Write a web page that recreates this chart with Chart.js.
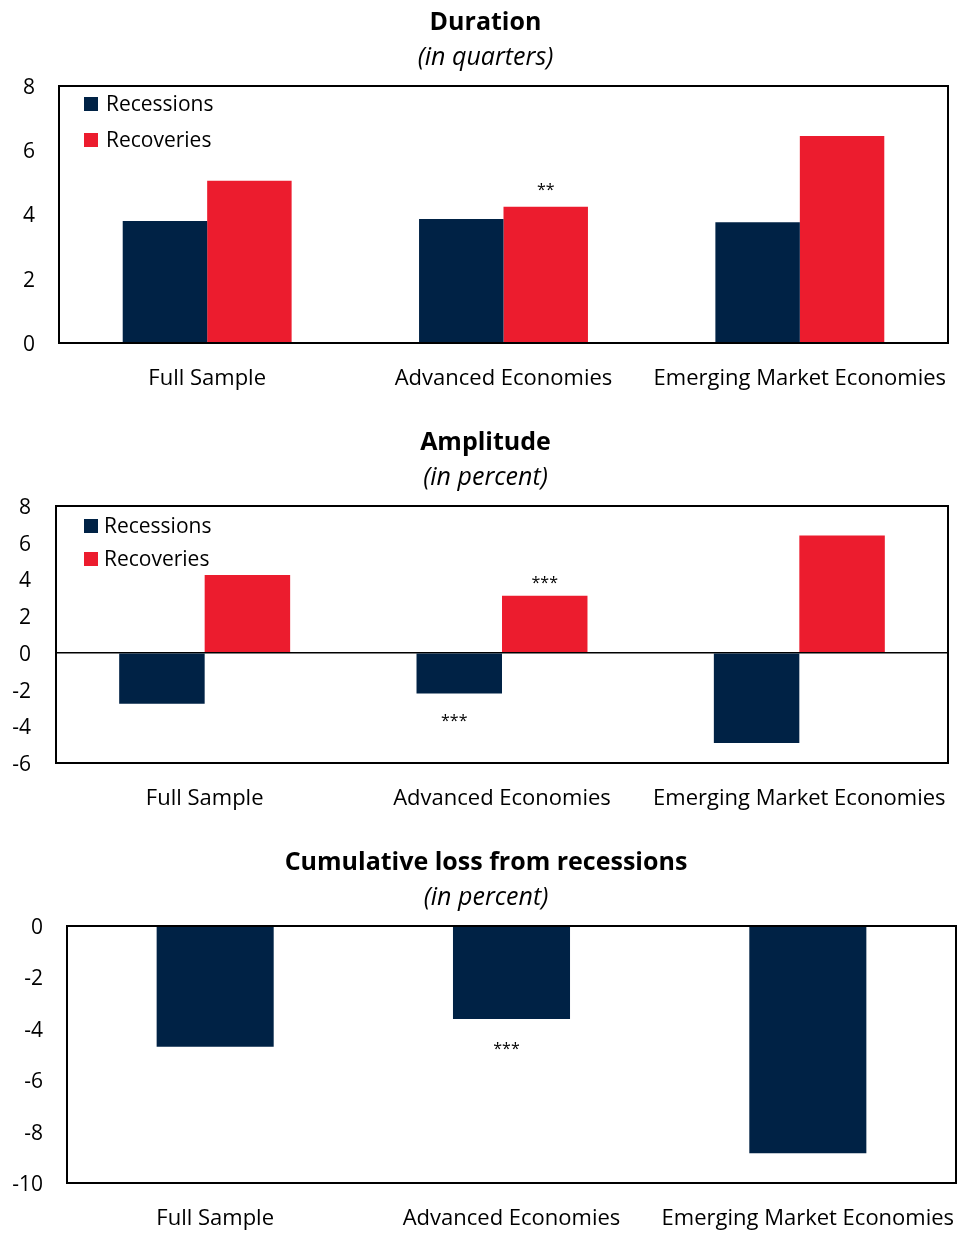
<!DOCTYPE html>
<html>
<head>
<meta charset="utf-8">
<script src="https://cdn.jsdelivr.net/npm/chart.js@4.4.0/dist/chart.umd.min.js"></script>
<style>
  body { margin: 0; background: #fff; overflow: hidden; }
  .box { position: absolute; left: 0; width: 957px; }
</style>
</head>
<body>
<div class="box" style="top:0;height:420px"><canvas id="durationChart"></canvas></div>
<div class="box" style="top:420px;height:420px"><canvas id="amplitudeChart"></canvas></div>
<div class="box" style="top:840px;height:393px"><canvas id="lossChart"></canvas></div>
<script>
// data
const categories = ['Full Sample', 'Advanced Economies', 'Emerging Market Economies'];

const durationRecessions = [3.8, 3.86, 3.76];
const durationRecoveries = [5.05, 4.24, 6.44];
const durationStars = [['', ''], ['', '**'], ['', '']];

const amplitudeRecessions = [-2.77, -2.21, -4.91];
const amplitudeRecoveries = [4.24, 3.11, 6.39];
const amplitudeStars = [['', ''], ['***', '***'], ['', '']];

const cumulativeLoss = [-4.70, -3.62, -8.84];
const lossStars = [[''], ['***'], ['']];

const NAVY = '#002245';
const RED = '#EC1C2E';
const FONT = "'Open Sans', sans-serif";

// title + subtitle, centred where the original has them (a bit left of the page middle)
const headings = {
  id: 'headings',
  afterDraw(chart, args, opts) {
    const c = chart.ctx;
    c.save();
    c.fillStyle = '#000';
    c.textAlign = 'center';
    c.textBaseline = 'middle';
    c.font = 'bold 25px ' + FONT;
    c.fillText(opts.title, opts.x, 22.5);
    c.font = 'italic 25px ' + FONT;
    c.fillText(opts.subtitle, opts.x, 58);
    c.restore();
  }
};

// box round the plot area
const frame = {
  id: 'frame',
  afterDraw(chart) {
    const a = chart.chartArea;
    const c = chart.ctx;
    c.save();
    c.strokeStyle = '#000';
    c.lineWidth = 2;
    c.strokeRect(a.left, a.top, a.right - a.left, a.bottom - a.top);
    c.restore();
  }
};

// legend inside the plot, top left
const innerLegend = {
  id: 'innerLegend',
  afterDraw(chart, args, opts) {
    if (!opts.show) return;
    const a = chart.chartArea;
    const c = chart.ctx;
    c.save();
    c.font = '21px ' + FONT;
    c.textBaseline = 'middle';
    chart.data.datasets.forEach((ds, i) => {
      const y = a.top + opts.first + i * opts.gap;
      c.fillStyle = ds.backgroundColor;
      c.fillRect(a.left + opts.left, y - 7, 14, 14);
      c.fillStyle = '#000';
      c.fillText(ds.label, a.left + opts.left + opts.textGap, y + 1);
    });
    c.restore();
  }
};

// significance stars next to bars
const stars = {
  id: 'stars',
  afterDatasetsDraw(chart, args, opts) {
    const c = chart.ctx;
    c.save();
    c.font = '16px ' + FONT;
    c.fillStyle = '#000';
    c.textAlign = 'center';
    c.textBaseline = 'middle';
    chart.data.datasets.forEach((ds, i) => {
      const meta = chart.getDatasetMeta(i);
      meta.data.forEach((bar, j) => {
        const s = opts.marks[j][i];
        if (!s) return;
        if (ds.data[j] >= 0) c.fillText(s, bar.x, bar.y - opts.above);
        else c.fillText(s, bar.x - 5, bar.y + opts.below);
      });
    });
    c.restore();
  }
};

function makeChart(id, cfg) {
  return new Chart(document.getElementById(id), {
    type: 'bar',
    data: { labels: categories, datasets: cfg.datasets },
    plugins: [headings, frame, innerLegend, stars],
    options: {
      responsive: true,
      maintainAspectRatio: false,
      animation: false,
      layout: { padding: { left: 0, right: cfg.right, top: 86, bottom: 0 } },
      datasets: {
        bar: {
          categoryPercentage: cfg.catPct,
          barPercentage: 1,
          borderWidth: 0
        }
      },
      plugins: {
        legend: { display: false },
        tooltip: { enabled: false },
        headings: { title: cfg.title, subtitle: cfg.subtitle, x: cfg.titleX },
        innerLegend: cfg.legend,
        stars: { marks: cfg.marks, above: cfg.above, below: cfg.below }
      },
      scales: {
        x: {
          grid: { display: false, drawTicks: true, tickLength: 23 },
          border: { display: false },
          ticks: { color: '#000', font: { family: FONT, size: 22 }, padding: 0, maxRotation: 0 },
          afterFit: (s) => { s.height = s.chart.height - 343; }
        },
        y: {
          min: cfg.min,
          max: cfg.max,
          grid: {
            drawTicks: false,
            color: (ctx) => ctx.tick && ctx.tick.value === 0 ? '#000' : 'rgba(0,0,0,0)',
            lineWidth: 1.5
          },
          border: { display: false },
          ticks: { stepSize: 2, color: '#000', font: { family: FONT, size: 21 }, padding: cfg.yPad, labelOffset: 2 },
          afterFit: (s) => { s.width = cfg.axisWidth; }
        }
      }
    }
  });
}

makeChart('durationChart', {
  title: 'Duration',
  subtitle: '(in quarters)',
  titleX: 485.5,
  datasets: [
    { label: 'Recessions', data: durationRecessions, backgroundColor: NAVY },
    { label: 'Recoveries', data: durationRecoveries, backgroundColor: RED }
  ],
  marks: durationStars,
  above: 16, below: 28,
  legend: { show: true, left: 25, textGap: 22, first: 18, gap: 36 },
  min: 0, max: 8,
  axisWidth: 59, yPad: 24, right: 9,
  catPct: 0.57
});

makeChart('amplitudeChart', {
  title: 'Amplitude',
  subtitle: '(in percent)',
  titleX: 485.5,
  datasets: [
    { label: 'Recessions', data: amplitudeRecessions, backgroundColor: NAVY },
    { label: 'Recoveries', data: amplitudeRecoveries, backgroundColor: RED }
  ],
  marks: amplitudeStars,
  above: 12, below: 28,
  legend: { show: true, left: 28, textGap: 20, first: 20, gap: 33 },
  min: -6, max: 8,
  axisWidth: 56, yPad: 25, right: 9,
  catPct: 0.575
});

makeChart('lossChart', {
  title: 'Cumulative loss from recessions',
  subtitle: '(in percent)',
  titleX: 486,
  datasets: [
    { label: 'Cumulative loss', data: cumulativeLoss, backgroundColor: NAVY }
  ],
  marks: lossStars,
  above: 16, below: 30,
  legend: { show: false },
  min: -10, max: 0,
  axisWidth: 67, yPad: 24, right: 1,
  catPct: 0.395
});
</script>
</body>
</html>
